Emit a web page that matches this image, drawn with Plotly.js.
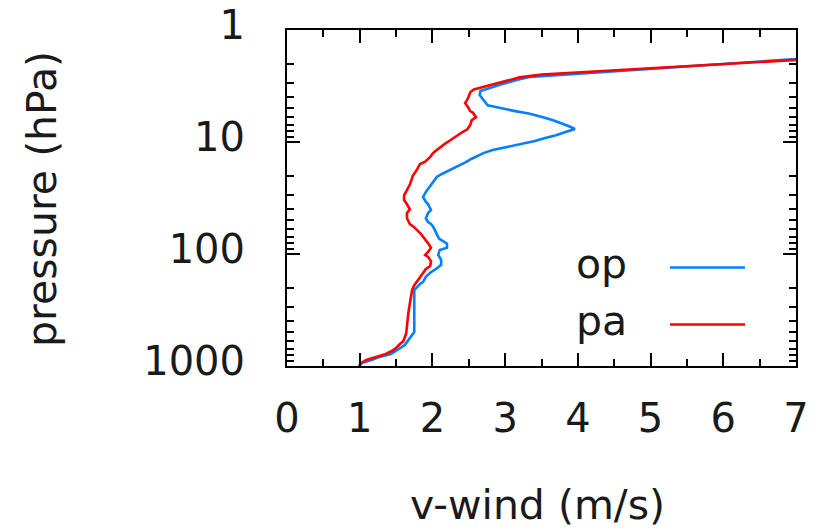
<!DOCTYPE html>
<html>
<head>
<meta charset="utf-8">
<script src="https://cdn.plot.ly/plotly-3.0.1.min.js"></script>
<style>html,body{margin:0;padding:0;background:#fff;}#chart{width:827px;height:531px;}</style>
</head>
<body>
<div id="chart"></div>
<script>
// op series (blue): pressure (hPa) and v-wind (m/s)
const opPressure = [1000, 940, 884, 831, 781, 735, 705, 677, 649, 598, 528, 497, 210, 197, 185, 178, 160, 147, 142, 136, 125, 113, 102, 92, 88, 81, 73, 66, 57, 54, 51.8, 48, 43, 40.5, 35.8, 34.3, 31, 27.9, 25.7, 23.2, 20.5, 19.3, 17.1, 15.1, 14.1, 13.3, 12.5, 11.8, 11.1, 10.4, 9.8, 9.2, 8.7, 8.1, 7.65, 7.2, 6.75, 6.4, 6.0, 5.6, 5.3, 5.0, 4.7, 4.2, 3.8, 3.5, 3.25, 3.05, 2.75, 2.62, 1.81];
const opWind = [0.99, 1.03, 1.16, 1.27, 1.43, 1.50, 1.54, 1.58, 1.62, 1.66, 1.71, 1.75, 1.75, 1.79, 1.83, 1.87, 1.91, 1.97, 2.01, 2.05, 2.12, 2.12, 2.08, 2.10, 2.20, 2.20, 2.09, 2.06, 2.01, 1.98, 1.94, 1.91, 1.94, 1.98, 1.94, 1.91, 1.87, 1.91, 1.95, 1.99, 2.06, 2.13, 2.30, 2.46, 2.54, 2.63, 2.71, 2.83, 3.01, 3.22, 3.41, 3.55, 3.70, 3.84, 3.96, 3.87, 3.76, 3.66, 3.52, 3.34, 3.14, 2.93, 2.76, 2.70, 2.65, 2.66, 2.80, 2.95, 3.20, 3.35, 7.05];

// pa series (red)
const paPressure = [1000, 940, 884, 831, 781, 735, 690, 640, 600, 510, 330, 210, 190, 175, 160, 145, 136, 128, 116, 106, 102, 96, 88, 80, 75, 70, 65, 61, 57, 54, 48, 43, 40, 36, 33, 30, 27, 24, 20, 18, 15.7, 15, 13.6, 12.5, 11.8, 11.1, 10.4, 9.8, 9.2, 8.7, 8.1, 7.7, 7.05, 6.4, 6.0, 5.5, 5.3, 4.9, 4.5, 4.05, 3.6, 3.4, 2.65, 2.5, 1.84];
const paWind = [0.99, 1.02, 1.09, 1.21, 1.36, 1.44, 1.50, 1.55, 1.60, 1.64, 1.67, 1.72, 1.75, 1.79, 1.83, 1.87, 1.91, 1.97, 1.98, 1.94, 1.90, 1.94, 1.98, 1.94, 1.90, 1.87, 1.83, 1.79, 1.74, 1.69, 1.65, 1.65, 1.69, 1.65, 1.61, 1.61, 1.65, 1.69, 1.73, 1.78, 1.83, 1.90, 1.97, 2.01, 2.06, 2.11, 2.17, 2.23, 2.29, 2.35, 2.42, 2.48, 2.52, 2.54, 2.60, 2.56, 2.52, 2.49, 2.45, 2.49, 2.52, 2.57, 3.20, 3.50, 7.05];

const seriesNames = ['op', 'pa'];
const seriesColors = ['#0080ff', '#ff0000'];
const xTitle = 'v-wind (m/s)';
const yTitle = 'pressure (hPa)';

const FONT = '"DejaVu Sans", sans-serif';
const TXT = '#1a1a1a';

const traces = [
  {x: opWind, y: opPressure, name: seriesNames[0], mode: 'lines', type: 'scatter',
   line: {color: seriesColors[0], width: 2.6}, showlegend: false},
  {x: paWind, y: paPressure, name: seriesNames[1], mode: 'lines', type: 'scatter',
   line: {color: seriesColors[1], width: 2.6}, showlegend: false}
];

// plot area geometry helpers (paper coords)
const L = 287, R = 31, T = 30, B = 165, W = 827, H = 531;
const pw = W - L - R, ph = H - T - B;
const px = v => (v - L) / pw;
const py = v => 1 - (v - T) / ph;

const layout = {
  width: W, height: H,
  margin: {l: L, r: R, t: T, b: B, pad: 0},
  paper_bgcolor: '#ffffff', plot_bgcolor: '#ffffff',
  font: {family: FONT, size: 40, color: TXT},
  xaxis: {
    range: [0, 7], tickmode: 'linear', tick0: 0, dtick: 1,
    ticks: 'inside', ticklen: 13, tickwidth: 2, tickcolor: '#000',
    showline: true, linecolor: '#000', linewidth: 2, mirror: 'allticks',
    showgrid: false, zeroline: false,
    tickfont: {family: FONT, size: 40, color: TXT},
    ticklabelstandoff: 16,
    minor: {dtick: 0.5, ticks: 'inside', ticklen: 7, tickwidth: 2, tickcolor: '#000', showgrid: false}
  },
  yaxis: {
    type: 'log', range: [3, 0], tickmode: 'linear', tick0: 0, dtick: 1,
    exponentformat: 'none', separatethousands: false,
    ticks: 'inside', ticklen: 13, tickwidth: 2, tickcolor: '#000',
    showline: true, linecolor: '#000', linewidth: 2, mirror: 'allticks',
    showgrid: false, zeroline: false,
    tickfont: {family: FONT, size: 40, color: TXT},
    ticklabelstandoff: 32,
    ticklabelshift: 5,
    minor: {ticks: 'inside', ticklen: 7, tickwidth: 2, tickcolor: '#000', showgrid: false}
  },
  annotations: [
    {xref: 'paper', yref: 'paper', x: px(537), y: py(505), text: xTitle, showarrow: false,
     xanchor: 'center', yanchor: 'middle', font: {family: FONT, size: 41, color: TXT}},
    {xref: 'paper', yref: 'paper', x: px(42), y: py(199), text: yTitle, showarrow: false, textangle: -90,
     xanchor: 'center', yanchor: 'middle', font: {family: FONT, size: 41, color: TXT}},
    {xref: 'paper', yref: 'paper', x: px(629), y: py(264), text: seriesNames[0], showarrow: false,
     xanchor: 'right', yanchor: 'middle', font: {family: FONT, size: 41, color: TXT}},
    {xref: 'paper', yref: 'paper', x: px(629), y: py(321), text: seriesNames[1], showarrow: false,
     xanchor: 'right', yanchor: 'middle', font: {family: FONT, size: 41, color: TXT}}
  ],
  shapes: [
    {type: 'line', xref: 'paper', yref: 'paper', x0: px(670), x1: px(745), y0: py(267.5), y1: py(267.5),
     line: {color: seriesColors[0], width: 2.6}},
    {type: 'line', xref: 'paper', yref: 'paper', x0: px(670), x1: px(745), y0: py(324.5), y1: py(324.5),
     line: {color: seriesColors[1], width: 2.6}}
  ]
};

Plotly.newPlot('chart', traces, layout, {displayModeBar: false, staticPlot: true});
</script>
</body>
</html>
